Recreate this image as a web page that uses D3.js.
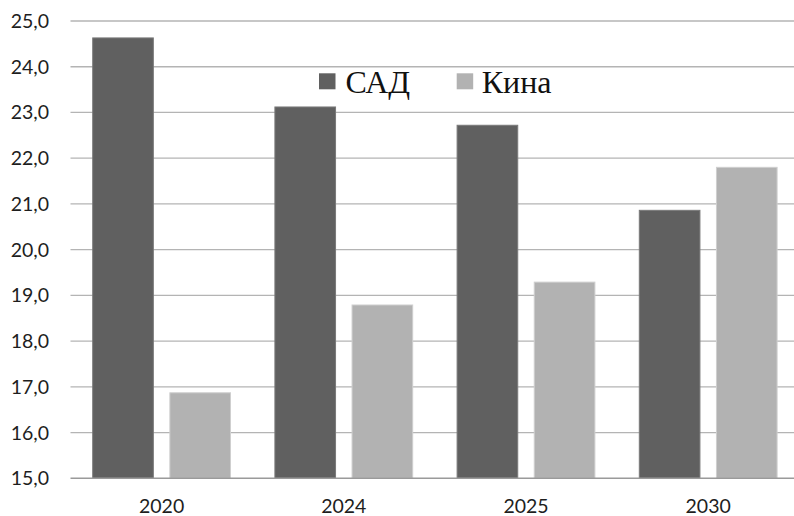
<!DOCTYPE html>
<html><head><meta charset="utf-8">
<script src="https://cdn.jsdelivr.net/npm/d3@7"></script>
<style>body{margin:0;background:#fff}</style>
</head><body>
<svg id="c" width="794" height="516"></svg>
<script>
const categories = ["2020", "2024", "2025", "2030"];
const seriesNames = ["САД", "Кина"];
const usaValues = [24.63, 23.12, 22.72, 20.86];
const chinaValues = [16.87, 18.79, 19.29, 21.80];
const yTicks = [15, 16, 17, 18, 19, 20, 21, 22, 23, 24, 25];
const colors = ["#606060", "#b2b2b2"];

(function () {
const svg = d3.select("#c");
const pLeft = 70.5, pRight = 799.3, pTop = 21, pBottom = 478.3;
const x0 = d3.scaleBand().domain(categories).range([pLeft, pRight]).paddingInner(0).paddingOuter(0);
const x1 = d3.scaleBand().domain(seriesNames).range([22.2, x0.bandwidth() - 22.2]).paddingInner(0.214);
const y = d3.scaleLinear().domain([15, 25]).range([pBottom, pTop]);
const fmt = v => d3.format(".1f")(v).replace(".", ",");

// gridlines
svg.append("g").selectAll("line").data(yTicks.filter(t => t > 15)).join("line")
  .attr("x1", pLeft).attr("x2", pRight)
  .attr("y1", d => y(d)).attr("y2", d => y(d))
  .attr("stroke", "#b4b4b4").attr("stroke-width", 1.3);

// y labels
svg.append("g").selectAll("text").data(yTicks).join("text")
  .attr("x", 49).attr("y", d => y(d)).attr("dy", "0.36em")
  .attr("text-anchor", "end")
  .attr("font-family", "Lato, 'Open Sans', sans-serif").attr("font-size", 19.5).attr("fill", "#1e1e1e")
  .text(fmt);

const data = categories.map((c, i) => ({c, vals: [usaValues[i], chinaValues[i]]}));
const groups = svg.append("g").selectAll("g").data(data).join("g")
  .attr("transform", d => `translate(${x0(d.c)},0)`);
groups.selectAll("rect").data(d => d.vals.map((v, j) => ({s: seriesNames[j], v, j}))).join("rect")
  .attr("x", d => x1(d.s)).attr("width", x1.bandwidth())
  .attr("y", d => y(d.v)).attr("height", d => y(15) - y(d.v))
  .attr("fill", d => colors[d.j])
  .attr("stroke", d => d.j === 0 ? "#7a7a7a" : "#cfcfcf").attr("stroke-width", 1);

// baseline axis
svg.append("line").attr("x1", pLeft).attr("x2", pRight).attr("y1", pBottom).attr("y2", pBottom)
  .attr("stroke", "#9a9a9a").attr("stroke-width", 1.5);

// x labels
svg.append("g").selectAll("text").data(categories).join("text")
  .attr("x", d => x0(d) + x0.bandwidth() / 2).attr("y", 513)
  .attr("text-anchor", "middle")
  .attr("font-family", "Lato, 'Open Sans', sans-serif").attr("font-size", 19.5).attr("fill", "#1e1e1e")
  .text(d => d);

// legend
const legendX = [319, 456.7];
const textOff = [26.5, 25];
const lg = svg.append("g").selectAll("g").data(seriesNames).join("g")
  .attr("transform", (d, i) => `translate(${legendX[i]},0)`);
lg.append("rect").attr("x", 0).attr("y", 73.3).attr("width", 16.5).attr("height", 16)
  .attr("fill", (d, i) => colors[i]);
lg.append("text").attr("x", (d, i) => textOff[i]).attr("y", 92.5)
  .attr("font-family", "'Liberation Serif', 'Times New Roman', serif").attr("font-size", 32).attr("fill", "#111")
  .text(d => d);
})();
</script>
</body></html>
